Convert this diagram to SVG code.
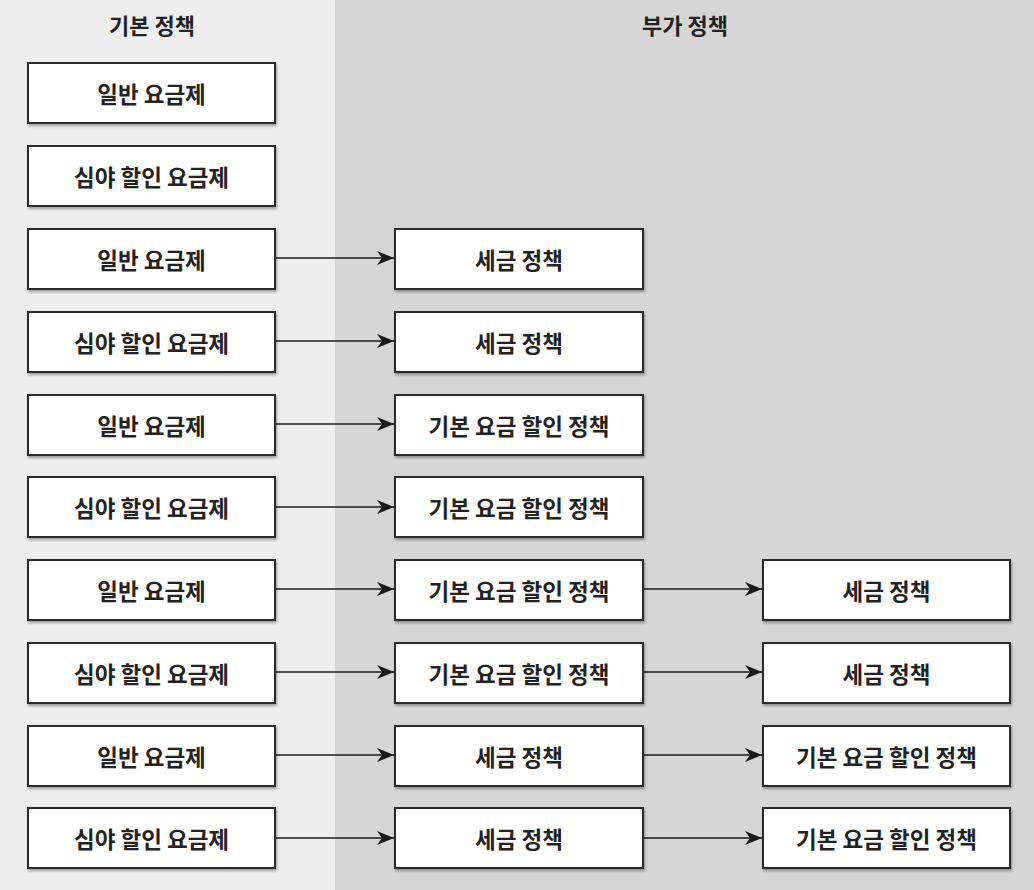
<svg xmlns="http://www.w3.org/2000/svg" width="1034" height="890" viewBox="0 0 1034 890">
<defs>
<style>
.box{fill:#fff;stroke:#2b2b2b;stroke-width:2;filter:url(#sh)}
.t{font-family:"Noto Sans CJK KR","Noto Sans",sans-serif;font-size:22.5px;font-weight:700;fill:#222;text-anchor:middle;dominant-baseline:central}
.h{font-family:"Noto Sans CJK KR","Noto Sans",sans-serif;font-size:22px;font-weight:700;fill:#222;text-anchor:middle;dominant-baseline:central}
.c{stroke:#1a1a1a;stroke-width:1.6;fill:none;marker-end:url(#ah)}
</style>
<filter id="sh" x="-10%" y="-20%" width="120%" height="150%">
<feDropShadow dx="1" dy="2" stdDeviation="1.5" flood-color="#000" flood-opacity="0.35"/>
</filter>
<marker id="ah" markerWidth="18" markerHeight="14" refX="17" refY="7" orient="auto" markerUnits="userSpaceOnUse">
<path d="M0,0 L17,7 L0,14 L5,7 Z" fill="#1a1a1a"/>
</marker>
</defs>
<rect x="0" y="0" width="335" height="890" fill="#eeeeee"/>
<rect x="335" y="0" width="699" height="890" fill="#d6d6d6"/>
<text class="h" x="152" y="24">기본 정책</text>
<text class="h" x="685" y="24">부가 정책</text>
<g id="connectors">
<line class="c" x1="276" y1="258" x2="394" y2="258"/>
<line class="c" x1="276" y1="341" x2="394" y2="341"/>
<line class="c" x1="276" y1="424" x2="394" y2="424"/>
<line class="c" x1="276" y1="507" x2="394" y2="507"/>
<line class="c" x1="276" y1="589" x2="394" y2="589"/>
<line class="c" x1="276" y1="672" x2="394" y2="672"/>
<line class="c" x1="276" y1="755" x2="394" y2="755"/>
<line class="c" x1="276" y1="838" x2="394" y2="838"/>
<line class="c" x1="644" y1="589" x2="762" y2="589"/>
<line class="c" x1="644" y1="672" x2="762" y2="672"/>
<line class="c" x1="644" y1="755" x2="762" y2="755"/>
<line class="c" x1="644" y1="838" x2="762" y2="838"/>
</g>
<g id="b1"><rect class="box" x="28" y="63" width="247" height="60"/><text class="t" x="151.5" y="93">일반 요금제</text></g>
<g id="b2"><rect class="box" x="28" y="146" width="247" height="60"/><text class="t" x="151.5" y="176">심야 할인 요금제</text></g>
<g id="b3"><rect class="box" x="28" y="229" width="247" height="60"/><text class="t" x="151.5" y="259">일반 요금제</text></g>
<g id="b4"><rect class="box" x="28" y="312" width="247" height="60"/><text class="t" x="151.5" y="342">심야 할인 요금제</text></g>
<g id="b5"><rect class="box" x="28" y="395" width="247" height="60"/><text class="t" x="151.5" y="425">일반 요금제</text></g>
<g id="b6"><rect class="box" x="28" y="477" width="247" height="60"/><text class="t" x="151.5" y="507">심야 할인 요금제</text></g>
<g id="b7"><rect class="box" x="28" y="560" width="247" height="60"/><text class="t" x="151.5" y="590">일반 요금제</text></g>
<g id="b8"><rect class="box" x="28" y="643" width="247" height="60"/><text class="t" x="151.5" y="673">심야 할인 요금제</text></g>
<g id="b9"><rect class="box" x="28" y="726" width="247" height="60"/><text class="t" x="151.5" y="756">일반 요금제</text></g>
<g id="b10"><rect class="box" x="28" y="808" width="247" height="60"/><text class="t" x="151.5" y="838">심야 할인 요금제</text></g>
<g id="m3"><rect class="box" x="395" y="229" width="248" height="60"/><text class="t" x="519" y="259">세금 정책</text></g>
<g id="m4"><rect class="box" x="395" y="312" width="248" height="60"/><text class="t" x="519" y="342">세금 정책</text></g>
<g id="m5"><rect class="box" x="395" y="395" width="248" height="60"/><text class="t" x="519" y="425">기본 요금 할인 정책</text></g>
<g id="m6"><rect class="box" x="395" y="477" width="248" height="60"/><text class="t" x="519" y="507">기본 요금 할인 정책</text></g>
<g id="m7"><rect class="box" x="395" y="560" width="248" height="60"/><text class="t" x="519" y="590">기본 요금 할인 정책</text></g>
<g id="m8"><rect class="box" x="395" y="643" width="248" height="60"/><text class="t" x="519" y="673">기본 요금 할인 정책</text></g>
<g id="m9"><rect class="box" x="395" y="726" width="248" height="60"/><text class="t" x="519" y="756">세금 정책</text></g>
<g id="m10"><rect class="box" x="395" y="808" width="248" height="60"/><text class="t" x="519" y="838">세금 정책</text></g>
<g id="r7"><rect class="box" x="763" y="560" width="247" height="60"/><text class="t" x="886.5" y="590">세금 정책</text></g>
<g id="r8"><rect class="box" x="763" y="643" width="247" height="60"/><text class="t" x="886.5" y="673">세금 정책</text></g>
<g id="r9"><rect class="box" x="763" y="726" width="247" height="60"/><text class="t" x="886.5" y="756">기본 요금 할인 정책</text></g>
<g id="r10"><rect class="box" x="763" y="808" width="247" height="60"/><text class="t" x="886.5" y="838">기본 요금 할인 정책</text></g>
</svg>
